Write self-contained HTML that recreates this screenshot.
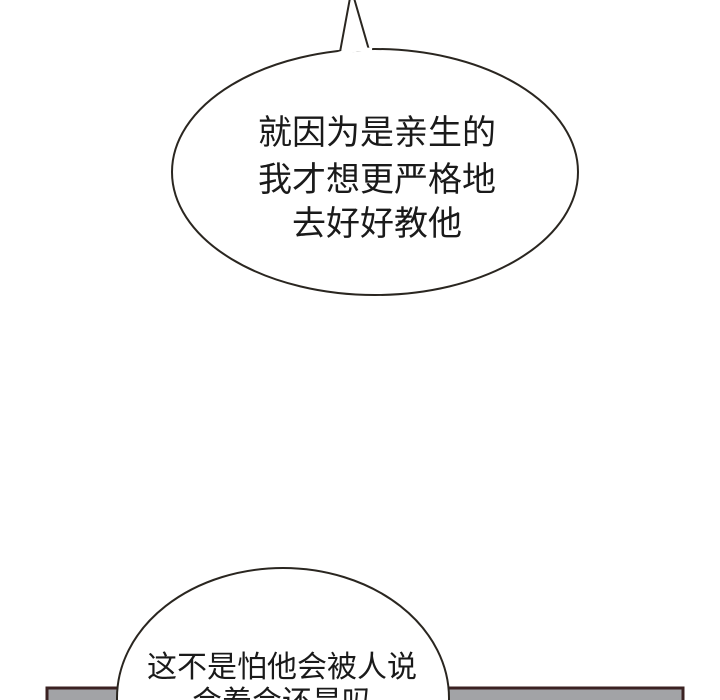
<!DOCTYPE html>
<html><head><meta charset="utf-8"><style>
html,body{margin:0;padding:0;background:#fff;overflow:hidden;}
body{width:720px;height:700px;overflow:hidden;position:relative;}
svg{position:absolute;left:0;top:0;overflow:hidden;}
text{font-family:"Liberation Sans","Noto Sans CJK SC",sans-serif;fill:#1a1a1a;}
</style></head><body>
<svg width="720" height="700" viewBox="0 0 720 700">
<rect x="47" y="688" width="636" height="20" fill="#a2a3a6" stroke="#3b2222" stroke-width="3"/>
<ellipse cx="375" cy="172" rx="203" ry="123" fill="#fff" stroke="#2a2620" stroke-width="2"/>
<polygon points="340,52 350,-2 354,-2 369,50" fill="#fff" stroke="#2a2620" stroke-width="2"/>
<path d="M338,54 Q355,48 372,50" stroke="#fff" stroke-width="4" fill="none"/>
<text x="377" y="144" text-anchor="middle" font-size="34">就因为是亲生的</text>
<text x="377" y="191" text-anchor="middle" font-size="34">我才想更严格地</text>
<text x="377" y="235" text-anchor="middle" font-size="34">去好好教他</text>
<ellipse cx="283" cy="698" rx="166" ry="130" fill="#fff" stroke="#2a2620" stroke-width="2"/>
<text x="282" y="677" text-anchor="middle" font-size="30">这不是怕他会被人说</text>
<text x="282" y="712" text-anchor="middle" font-size="30">会着会还是吗</text>
</svg>
</body></html>
